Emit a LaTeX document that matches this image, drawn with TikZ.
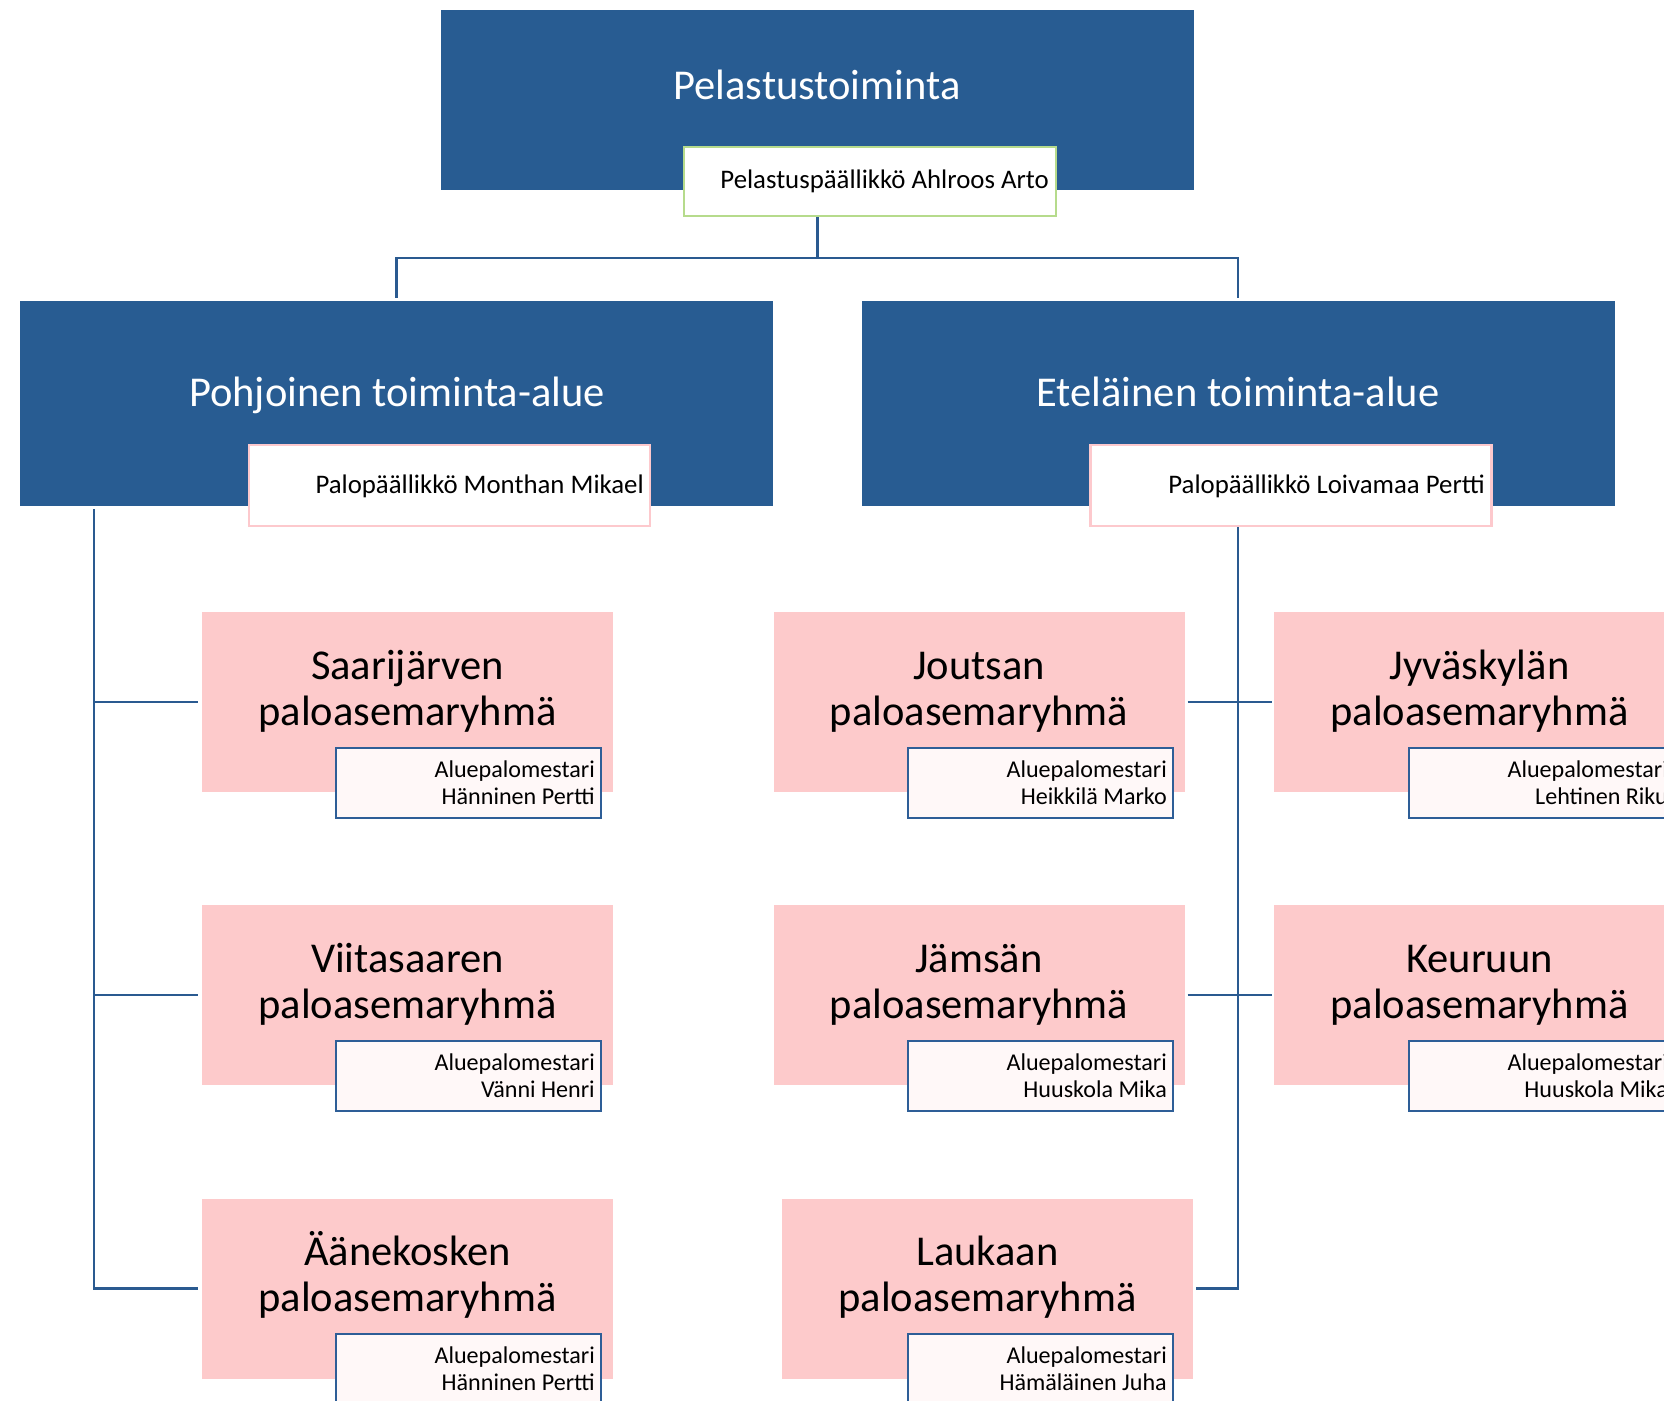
\documentclass[tikz,border=0pt]{standalone}
\usepackage{fontspec}
\setmainfont{Carlito}
\definecolor{blueC}{HTML}{285C92}
\definecolor{pinkC}{HTML}{FDCACB}
\definecolor{subfill}{HTML}{FFF8F8}
\definecolor{subborder}{HTML}{2E5E97}
\definecolor{pinkborder}{HTML}{FDC9CD}
\definecolor{greenborder}{HTML}{B6DB8C}
\definecolor{lineC}{HTML}{2A5A90}
\tikzset{
  bluebox/.style={fill=blueC, draw=none, inner sep=0pt, minimum width=753pt},
  stationbox/.style={fill=pinkC, draw=none, inner sep=0pt, minimum width=411pt, minimum height=180pt},
  subbox/.style={fill=subfill, draw=subborder, line width=2.6pt, inner sep=0pt, minimum width=265pt, minimum height=70pt},
  chiefbox/.style={fill=white, draw=pinkborder, line width=2.6pt, inner sep=0pt, minimum width=401pt, minimum height=81pt},
  bigtext/.style={inner sep=0pt, font=\fontsize{42.5}{46}\selectfont},
  whitetext/.style={bigtext, text=white},
  stationtext/.style={bigtext, align=center, text=black},
  chieftext/.style={inner sep=0pt, font=\fontsize{26.8}{30}\selectfont},
  subtext/.style={inner sep=0pt, align=right, font=\fontsize{24.1}{27}\selectfont},
  conn/.style={draw=lineC, line width=2.8pt}
}
\begin{document}
\begin{tikzpicture}[x=1pt,y=-1pt]
\useasboundingbox (0,0) rectangle (1664,1400);
\clip (0,0) rectangle (1664,1400);
% top level
\node[bluebox, minimum height=180pt] (top) at (817.5,100) {};
\node[fill=white, draw=greenborder, line width=2.6pt, inner sep=0pt, minimum width=372pt, minimum height=69pt] (topsub) at (870,181.5) {};
\node[whitetext, anchor=base] (toptext) at (817,99) {Pelastustoiminta};
\node[chieftext, anchor=base east] (topsubtext) at (1049,188) {Pelastuspäällikkö Ahlroos Arto};
% areas
\node[bluebox, minimum height=205pt] (pohj) at (396.5,403.5) {};
\node[bluebox, minimum height=205pt] (etel) at (1238,403.5) {};
\node[whitetext, anchor=base] (pohjtext) at (397,406) {Pohjoinen toiminta-alue};
\node[whitetext, anchor=base] (eteltext) at (1238,406) {Eteläinen toiminta-alue};
\node[chiefbox] (pohjsub) at (449.5,485.5) {};
\node[chiefbox] (etelsub) at (1291,485.5) {};
\node[chieftext, anchor=base east] (pohjsubtext) at (644,493) {Palopäällikkö Monthan Mikael};
\node[chieftext, anchor=base east] (etelsubtext) at (1485,493) {Palopäällikkö Loivamaa Pertti};
% connectors top
\coordinate (j0) at (817.5,258);
\draw[conn] (top.center |- topsub.south) -- (j0);
\draw[conn, shorten >=3pt] (j0) -| (pohj.north);
\draw[conn, shorten >=3pt] (j0) -| (etel.north);
% station boxes
\node[stationbox] (saa) at (407.5,702) {};
\node[stationbox] (vii) at (407.5,995) {};
\node[stationbox] (aan) at (407.5,1288.5) {};
\node[stationbox] (jou) at (979,702) {};
\node[stationbox] (jam) at (979,995) {};
\node[stationbox] (lau) at (987.5,1288.5) {};
\node[stationbox] (jyv) at (1479.5,702) {};
\node[stationbox] (keu) at (1479.5,995) {};
% station titles (anchor = baseline of last line)
\node[stationtext, anchor=base] (saat) at (407.5,725) {Saarijärven\\paloasemaryhmä};
\node[stationtext, anchor=base] (viit) at (407.5,1018) {Viitasaaren\\paloasemaryhmä};
\node[stationtext, anchor=base] (aant) at (407.5,1311.5) {Äänekosken\\paloasemaryhmä};
\node[stationtext, anchor=base] (jout) at (979,725) {Joutsan\\paloasemaryhmä};
\node[stationtext, anchor=base] (jamt) at (979,1018) {Jämsän\\paloasemaryhmä};
\node[stationtext, anchor=base] (laut) at (987.5,1311.5) {Laukaan\\paloasemaryhmä};
\node[stationtext, anchor=base] (jyvt) at (1479.5,725) {Jyväskylän\\paloasemaryhmä};
\node[stationtext, anchor=base] (keut) at (1479.5,1018) {Keuruun\\paloasemaryhmä};
% sub boxes
\node[subbox] (saas) at (468.5,783) {};
\node[subbox] (viis) at (468.5,1076) {};
\node[subbox] (aans) at (468.5,1369) {};
\node[subbox] (jous) at (1040.5,783) {};
\node[subbox] (jams) at (1040.5,1076) {};
\node[subbox] (laus) at (1040.5,1369) {};
\node[subbox] (jyvs) at (1541.5,783) {};
\node[subbox] (keus) at (1541.5,1076) {};
\node[subtext, anchor=base east] (saast) at (595,804) {Aluepalomestari\\Hänninen Pertti};
\node[subtext, anchor=base east] (viist) at (595,1097) {Aluepalomestari\\Vänni Henri};
\node[subtext, anchor=base east] (aanst) at (595,1390) {Aluepalomestari\\Hänninen Pertti};
\node[subtext, anchor=base east] (joust) at (1167,804) {Aluepalomestari\\Heikkilä Marko};
\node[subtext, anchor=base east] (jamst) at (1167,1097) {Aluepalomestari\\Huuskola Mika};
\node[subtext, anchor=base east] (laust) at (1167,1390) {Aluepalomestari\\Hämäläinen Juha};
\node[subtext, anchor=base east] (jyvst) at (1668,804) {Aluepalomestari\\Lehtinen Riku};
\node[subtext, anchor=base east] (keust) at (1668,1097) {Aluepalomestari\\Huuskola Mika};
% left tree
\coordinate (lt) at (94,509);
\draw[conn, shorten >=4pt] (lt) |- (aan.west);
\draw[conn, shorten >=4pt] (lt |- saa.west) -- (saa.west);
\draw[conn, shorten >=4pt] (lt |- vii.west) -- (vii.west);
% right tree
\coordinate (rt) at (etel.center |- etelsub.south);
\draw[conn, shorten >=3pt] (rt) |- (lau.east);
\draw[conn, shorten <=3pt, shorten >=2pt] (jou.east) -- (jyv.west);
\draw[conn, shorten <=3pt, shorten >=2pt] (jam.east) -- (keu.west);
\end{tikzpicture}
\end{document}
